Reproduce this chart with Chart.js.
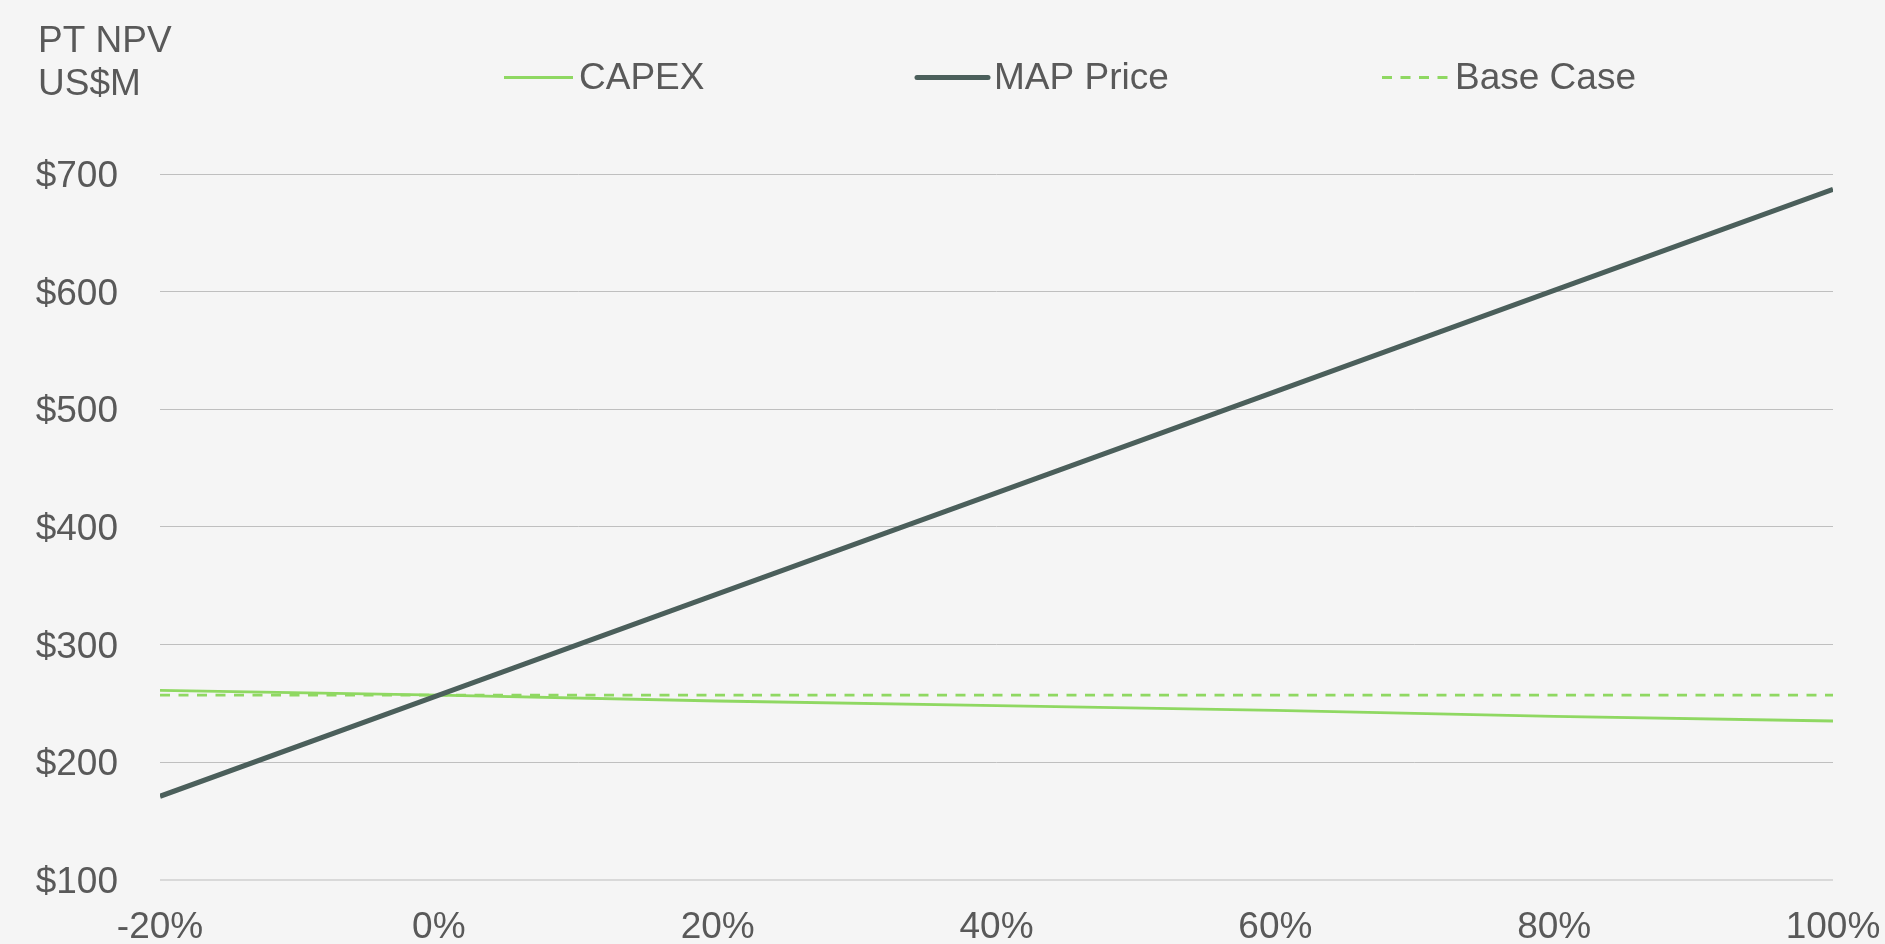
<!DOCTYPE html>
<html>
<head>
<meta charset="utf-8">
<script src="https://cdn.jsdelivr.net/npm/chart.js@4.4.1/dist/chart.umd.min.js"></script>
<style>
  html, body { margin: 0; padding: 0; background: #f5f5f5; }
  #wrap { width: 1885px; height: 944px; position: relative; }
</style>
</head>
<body>
<div id="wrap"><canvas id="chart"></canvas></div>
<script>
// Dados (variação % vs NPV em US$M)
var variacao   = [-20, 0, 20, 40, 60, 80, 100];
var capex      = [261, 257, 252, 248, 244, 239, 235];
var mapPrice   = [171, 257, 343, 429, 515, 601, 687];
var baseCase   = [257, 257, 257, 257, 257, 257, 257];
var seriesNames = ['CAPEX', 'MAP Price', 'Base Case'];
var tituloEixo = ['PT NPV', 'US$M'];

var FONTE = '"Liberation Sans", Arial, sans-serif';
var CINZA = '#595959';
var VERDE = '#8fd862';
var ESCURO = '#4b5f5b';

function pares(ys) {
  return variacao.map(function (x, i) { return { x: x, y: ys[i] }; });
}

// título do eixo e legenda desenhados à mão (posições fixas como no original)
var cabecalho = {
  id: 'cabecalho',
  beforeDraw: function (chart) {
    var ctx = chart.ctx;
    ctx.save();
    ctx.fillStyle = '#f5f5f5';
    ctx.fillRect(0, 0, chart.width, chart.height);
    ctx.restore();
  },
  afterDraw: function (chart) {
    var ctx = chart.ctx;
    ctx.save();
    ctx.font = '37px ' + FONTE;
    ctx.fillStyle = CINZA;
    ctx.textBaseline = 'alphabetic';
    ctx.textAlign = 'left';
    ctx.fillText(tituloEixo[0], 38, 52);
    ctx.fillText(tituloEixo[1], 38, 95);

    var linhaX = [504, 917, 1382];
    var linhaW = [69, 71, 67];
    chart.data.datasets.forEach(function (ds, i) {
      var x0 = linhaX[i];
      ctx.save();
      ctx.strokeStyle = ds.borderColor;
      ctx.lineWidth = ds.borderWidth;
      ctx.lineCap = i === 1 ? 'round' : 'butt';
      ctx.setLineDash(ds.borderDash || []);
      ctx.beginPath();
      ctx.moveTo(x0, 77.5);
      ctx.lineTo(x0 + linhaW[i], 77.5);
      ctx.stroke();
      ctx.restore();
      ctx.fillText(ds.label, x0 + linhaW[i] + 6, 89);
    });
    ctx.restore();
  }
};

new Chart(document.getElementById('chart'), {
  type: 'line',
  data: {
    datasets: [
      {
        label: seriesNames[0],
        data: pares(capex),
        borderColor: VERDE,
        borderWidth: 2.8,
        pointRadius: 0,
        order: 1
      },
      {
        label: seriesNames[1],
        data: pares(mapPrice),
        borderColor: ESCURO,
        borderWidth: 5,
        pointRadius: 0,
        order: 0
      },
      {
        label: seriesNames[2],
        data: pares(baseCase),
        borderColor: VERDE,
        borderWidth: 2.8,
        borderDash: [10, 8.5],
        pointRadius: 0,
        order: 2
      }
    ]
  },
  options: {
    responsive: true,
    maintainAspectRatio: false,
    animation: false,
    layout: { padding: { top: 174, right: 0, left: 0, bottom: 0 } },
    plugins: {
      legend: { display: false },
      title: { display: false },
      tooltip: { enabled: false }
    },
    scales: {
      x: {
        type: 'linear',
        min: -20,
        max: 100,
        ticks: {
          stepSize: 20,
          color: CINZA,
          font: { family: FONTE, size: 37 },
          padding: 26,
          maxRotation: 0,
          callback: function (v) { return v + '%'; }
        },
        grid: { display: false, drawTicks: false },
        border: { display: false },
        afterFit: function (scale) {
          scale.height = 62;
          scale.paddingLeft = 0;
          scale.paddingRight = 52;
        }
      },
      y: {
        min: 100,
        max: 700,
        ticks: {
          stepSize: 100,
          color: CINZA,
          font: { family: FONTE, size: 37 },
          padding: 42,
          labelOffset: 3,
          callback: function (v) { return '$' + v; }
        },
        grid: {
          drawTicks: false,
          color: function (c) { return c.tick && c.tick.value === 100 ? '#d9d9d9' : '#bfbfbf'; },
          lineWidth: function (c) { return c.tick && c.tick.value === 100 ? 2 : 1; }
        },
        border: { display: false },
        afterFit: function (scale) { scale.width = 160; }
      }
    }
  },
  plugins: [cabecalho]
});
</script>
</body>
</html>
